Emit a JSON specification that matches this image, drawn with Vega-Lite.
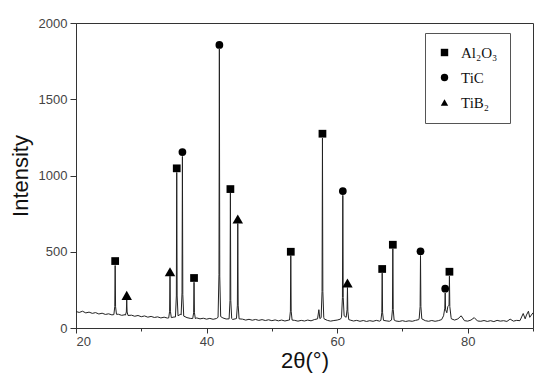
{
  "$schema": "https://vega.github.io/schema/vega-lite/v6.json",
  "autosize": {"type": "none"},
  "width": 457,
  "height": 305,
  "padding": {"left": 76, "top": 23, "right": 17, "bottom": 53},
  "background": "white",
  "config": {
    "view": {"stroke": "#333", "strokeWidth": 1},
    "axis": {"labelFont": "Liberation Sans", "titleFont": "Liberation Sans", "labelColor": "#444", "labelFontSize": 13, "titleFontWeight": "normal", "titleFontSize": 22, "titleColor": "#111", "domainColor": "#333", "tickColor": "#333", "grid": false}
  },
  "datasets": {
    "pattern": [
      {"x": 20, "y": 108}, {"x": 20.5, "y": 102}, {"x": 21, "y": 110}, {"x": 21.5, "y": 99}, {"x": 22, "y": 104}, {"x": 22.5, "y": 96}, {"x": 23, "y": 101}, {"x": 23.5, "y": 92}, {"x": 24, "y": 97}, {"x": 24.5, "y": 89}, {"x": 25, "y": 93}, {"x": 25.5, "y": 86},
      {"x": 25.8, "y": 88}, {"x": 25.94, "y": 140}, {"x": 26.0, "y": 410}, {"x": 26.06, "y": 140}, {"x": 26.2, "y": 90},
      {"x": 26.5, "y": 90}, {"x": 27, "y": 83}, {"x": 27.5, "y": 87},
      {"x": 27.57, "y": 84}, {"x": 27.71, "y": 105}, {"x": 27.77, "y": 185}, {"x": 27.83, "y": 105}, {"x": 27.97, "y": 82},
      {"x": 28.5, "y": 84}, {"x": 29, "y": 77}, {"x": 29.5, "y": 82}, {"x": 30, "y": 74}, {"x": 30.5, "y": 79}, {"x": 31, "y": 71}, {"x": 31.5, "y": 76}, {"x": 32, "y": 69}, {"x": 32.5, "y": 73}, {"x": 33, "y": 66}, {"x": 33.5, "y": 71}, {"x": 34, "y": 65},
      {"x": 34.2, "y": 66}, {"x": 34.34, "y": 110}, {"x": 34.4, "y": 340}, {"x": 34.46, "y": 110}, {"x": 34.6, "y": 68},
      {"x": 35, "y": 72},
      {"x": 35.23, "y": 72}, {"x": 35.37, "y": 210}, {"x": 35.43, "y": 1020}, {"x": 35.49, "y": 210}, {"x": 35.63, "y": 80},
      {"x": 36, "y": 90},
      {"x": 36.1, "y": 85}, {"x": 36.24, "y": 230}, {"x": 36.3, "y": 1125}, {"x": 36.36, "y": 220}, {"x": 36.5, "y": 78},
      {"x": 37, "y": 68}, {"x": 37.5, "y": 63},
      {"x": 37.88, "y": 62}, {"x": 38.02, "y": 100}, {"x": 38.08, "y": 300}, {"x": 38.14, "y": 100}, {"x": 38.28, "y": 62},
      {"x": 38.5, "y": 66}, {"x": 39, "y": 60}, {"x": 39.5, "y": 64}, {"x": 40, "y": 58}, {"x": 40.5, "y": 63}, {"x": 41, "y": 57}, {"x": 41.5, "y": 62},
      {"x": 41.76, "y": 70}, {"x": 41.9, "y": 350}, {"x": 41.96, "y": 1830}, {"x": 42.02, "y": 340}, {"x": 42.16, "y": 75},
      {"x": 42.5, "y": 66}, {"x": 43, "y": 59},
      {"x": 43.45, "y": 60}, {"x": 43.59, "y": 180}, {"x": 43.65, "y": 885}, {"x": 43.71, "y": 180}, {"x": 43.85, "y": 62},
      {"x": 44, "y": 56}, {"x": 44.5, "y": 61},
      {"x": 44.58, "y": 62}, {"x": 44.72, "y": 150}, {"x": 44.78, "y": 685}, {"x": 44.84, "y": 150}, {"x": 44.98, "y": 60},
      {"x": 45.5, "y": 58}, {"x": 46, "y": 52}, {"x": 46.5, "y": 57}, {"x": 47, "y": 51}, {"x": 47.5, "y": 56}, {"x": 48, "y": 50}, {"x": 48.5, "y": 55}, {"x": 49, "y": 49}, {"x": 49.5, "y": 54}, {"x": 50, "y": 48}, {"x": 50.5, "y": 53}, {"x": 51, "y": 47}, {"x": 51.5, "y": 52}, {"x": 52, "y": 46}, {"x": 52.5, "y": 51},
      {"x": 52.7, "y": 52}, {"x": 52.84, "y": 110}, {"x": 52.9, "y": 475}, {"x": 52.96, "y": 110}, {"x": 53.1, "y": 52},
      {"x": 53.5, "y": 50}, {"x": 54, "y": 45}, {"x": 54.5, "y": 50}, {"x": 55, "y": 46}, {"x": 55.5, "y": 52}, {"x": 56, "y": 47}, {"x": 56.5, "y": 55}, {"x": 57, "y": 60}, {"x": 57.2, "y": 120}, {"x": 57.35, "y": 62}, {"x": 57.5, "y": 65},
      {"x": 57.55, "y": 70}, {"x": 57.69, "y": 240}, {"x": 57.75, "y": 1245}, {"x": 57.81, "y": 240}, {"x": 57.95, "y": 70},
      {"x": 58, "y": 60}, {"x": 58.5, "y": 50}, {"x": 59, "y": 45}, {"x": 59.5, "y": 49}, {"x": 60, "y": 52}, {"x": 60.5, "y": 58},
      {"x": 60.67, "y": 70}, {"x": 60.81, "y": 200}, {"x": 60.87, "y": 870}, {"x": 60.93, "y": 200}, {"x": 61.07, "y": 80},
      {"x": 61.38, "y": 70}, {"x": 61.52, "y": 120}, {"x": 61.58, "y": 265}, {"x": 61.64, "y": 110}, {"x": 61.78, "y": 55},
      {"x": 62, "y": 52}, {"x": 62.5, "y": 46}, {"x": 63, "y": 50}, {"x": 63.5, "y": 44}, {"x": 64, "y": 49}, {"x": 64.5, "y": 43}, {"x": 65, "y": 48}, {"x": 65.5, "y": 44}, {"x": 66, "y": 50}, {"x": 66.5, "y": 45},
      {"x": 66.7, "y": 50}, {"x": 66.84, "y": 100}, {"x": 66.9, "y": 360}, {"x": 66.96, "y": 100}, {"x": 67.1, "y": 50},
      {"x": 67.5, "y": 47}, {"x": 68, "y": 44},
      {"x": 68.33, "y": 52}, {"x": 68.47, "y": 120}, {"x": 68.53, "y": 520}, {"x": 68.59, "y": 120}, {"x": 68.73, "y": 52},
      {"x": 69, "y": 46}, {"x": 69.5, "y": 43}, {"x": 70, "y": 48}, {"x": 70.5, "y": 43}, {"x": 71, "y": 47}, {"x": 71.5, "y": 44}, {"x": 72, "y": 50}, {"x": 72.5, "y": 55},
      {"x": 72.57, "y": 65}, {"x": 72.71, "y": 140}, {"x": 72.77, "y": 475}, {"x": 72.83, "y": 140}, {"x": 72.97, "y": 60},
      {"x": 73.5, "y": 48}, {"x": 74, "y": 44}, {"x": 74.5, "y": 49}, {"x": 75, "y": 44}, {"x": 75.5, "y": 48}, {"x": 76, "y": 55},
      {"x": 76.3, "y": 80}, {"x": 76.49, "y": 130}, {"x": 76.55, "y": 230}, {"x": 76.61, "y": 120}, {"x": 76.8, "y": 100},
      {"x": 76.95, "y": 140}, {"x": 77.14, "y": 150}, {"x": 77.2, "y": 340}, {"x": 77.26, "y": 140}, {"x": 77.45, "y": 70},
      {"x": 77.5, "y": 60}, {"x": 78, "y": 52}, {"x": 78.5, "y": 60}, {"x": 79, "y": 80}, {"x": 79.5, "y": 48}, {"x": 80, "y": 45}, {"x": 80.5, "y": 52}, {"x": 81, "y": 68}, {"x": 81.5, "y": 46}, {"x": 82, "y": 44}, {"x": 82.5, "y": 49}, {"x": 83, "y": 43}, {"x": 83.5, "y": 48}, {"x": 84, "y": 42}, {"x": 84.5, "y": 50}, {"x": 85, "y": 45}, {"x": 85.5, "y": 48}, {"x": 86, "y": 43}, {"x": 86.5, "y": 58}, {"x": 87, "y": 45}, {"x": 87.5, "y": 50}, {"x": 88, "y": 48}, {"x": 88.5, "y": 95}, {"x": 88.8, "y": 60}, {"x": 89, "y": 85}, {"x": 89.3, "y": 110}, {"x": 89.5, "y": 70}, {"x": 90, "y": 100}
    ],
    "markers": [
      {"phase": "Al₂O₃", "x": 26.0, "y": 439},
      {"phase": "TiB₂", "x": 27.77, "y": 214},
      {"phase": "TiB₂", "x": 34.4, "y": 369},
      {"phase": "Al₂O₃", "x": 35.43, "y": 1047},
      {"phase": "TiC", "x": 36.3, "y": 1154},
      {"phase": "Al₂O₃", "x": 38.08, "y": 328},
      {"phase": "TiC", "x": 41.96, "y": 1856},
      {"phase": "Al₂O₃", "x": 43.65, "y": 911},
      {"phase": "TiB₂", "x": 44.78, "y": 715},
      {"phase": "Al₂O₃", "x": 52.9, "y": 500},
      {"phase": "Al₂O₃", "x": 57.75, "y": 1274},
      {"phase": "TiC", "x": 60.87, "y": 898},
      {"phase": "TiB₂", "x": 61.58, "y": 295},
      {"phase": "Al₂O₃", "x": 66.9, "y": 387},
      {"phase": "Al₂O₃", "x": 68.53, "y": 546},
      {"phase": "TiC", "x": 72.77, "y": 503},
      {"phase": "TiC", "x": 76.55, "y": 258},
      {"phase": "Al₂O₃", "x": 77.2, "y": 369}
    ]
  },
  "layer": [
    {
      "data": {"name": "pattern"},
      "mark": {"type": "line", "color": "#222", "strokeWidth": 1, "clip": true},
      "encoding": {
        "x": {"field": "x", "type": "quantitative", "scale": {"domain": [20, 90], "nice": false, "zero": false},
              "axis": {"title": "2θ(°)", "values": [20, 30, 40, 50, 60, 70, 80, 90], "labelExpr": "datum.value % 20 === 0 && datum.value < 90 ? datum.label : ''", "tickSize": {"condition": {"test": "datum.value % 20 === 0", "value": 5}, "value": 3}, "labelPadding": 2, "titlePadding": 2}},
        "y": {"field": "y", "type": "quantitative", "scale": {"domain": [0, 2000], "nice": false},
              "axis": {"title": "Intensity", "values": [0, 250, 500, 750, 1000, 1250, 1500, 1750, 2000], "labelExpr": "datum.value % 500 === 0 ? datum.label : ''", "format": "d", "tickSize": {"condition": {"test": "datum.value % 500 === 0", "value": 6}, "value": 4}, "labelPadding": 3, "titlePadding": 6}}
      }
    },
    {
      "data": {"name": "markers"},
      "transform": [{"filter": "datum.phase !== 'TiB₂'"}],
      "mark": {"type": "point", "filled": true, "color": "black", "opacity": 1, "size": 60},
      "encoding": {
        "x": {"field": "x", "type": "quantitative"},
        "y": {"field": "y", "type": "quantitative"},
        "shape": {"field": "phase", "type": "nominal",
                  "scale": {"domain": ["Al₂O₃", "TiC", "TiB₂"], "range": ["square", "circle", "triangle-up"]},
                  "legend": {"title": null, "orient": "none", "legendX": 349, "legendY": 10, "strokeColor": "#555", "padding": 12, "rowPadding": 9, "labelFont": "Liberation Serif", "labelFontSize": 15, "labelColor": "#111", "symbolFillColor": "black", "symbolStrokeColor": "black", "symbolSize": 55, "labelOffset": 9, "symbolOffset": 0}}
      }
    },
    {
      "data": {"name": "markers"},
      "transform": [{"filter": "datum.phase === 'TiB₂'"}],
      "mark": {"type": "point", "filled": true, "color": "black", "opacity": 1, "size": 110},
      "encoding": {
        "x": {"field": "x", "type": "quantitative"},
        "y": {"field": "y", "type": "quantitative"},
        "shape": {"field": "phase", "type": "nominal",
                  "scale": {"domain": ["Al₂O₃", "TiC", "TiB₂"], "range": ["square", "circle", "triangle-up"]}}
      }
    }
  ]
}
